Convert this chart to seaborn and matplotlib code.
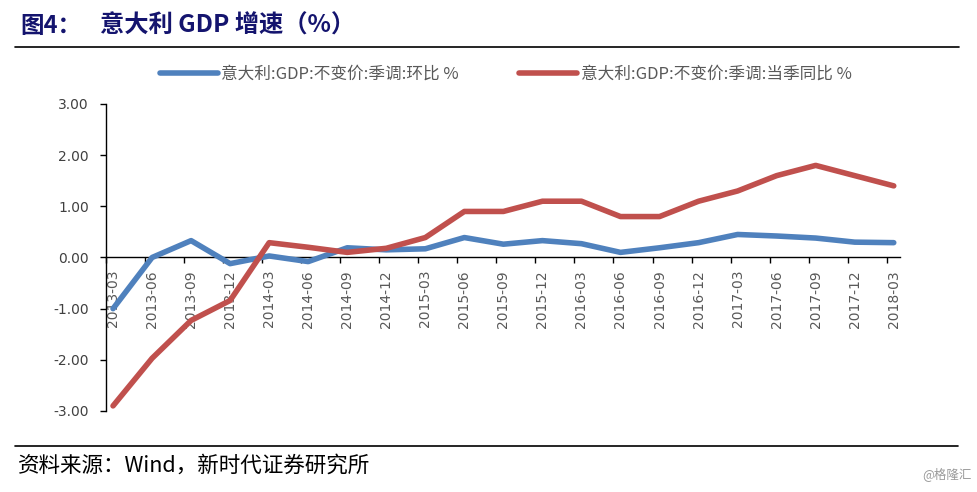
import seaborn as sns
import matplotlib
matplotlib.use("Agg")
import matplotlib.pyplot as plt
import numpy as np
import pandas as pd

# quarter labels and the two GDP growth series (%)
quarters = [
    "2013-03", "2013-06", "2013-09", "2013-12",
    "2014-03", "2014-06", "2014-09", "2014-12",
    "2015-03", "2015-06", "2015-09", "2015-12",
    "2016-03", "2016-06", "2016-09", "2016-12",
    "2017-03", "2017-06", "2017-09", "2017-12",
    "2018-03",
]
qoq = [
    -1.00, 0.00, 0.33, -0.12,
    0.03, -0.08, 0.19, 0.15,
    0.17, 0.39, 0.26, 0.33,
    0.27, 0.10, 0.19, 0.29,
    0.45, 0.42, 0.38, 0.30,
    0.29,
]
yoy = [
    -2.90, -1.97, -1.23, -0.84,
    0.29, 0.20, 0.10, 0.18,
    0.39, 0.90, 0.90, 1.10,
    1.10, 0.80, 0.80, 1.10,
    1.30, 1.60, 1.80, 1.60,
    1.40,
]
series_names = ["意大利:GDP:不变价:季调:环比 %", "意大利:GDP:不变价:季调:当季同比 %"]
yticks = [3.0, 2.0, 1.0, 0.0, -1.0, -2.0, -3.0]

BLUE = "#4F81BD"
RED = "#C0504D"
NAVY = "#14146E"
GREY = "#595959"

idx = np.arange(len(quarters))
df = pd.DataFrame({
    "idx": np.concatenate([idx, idx]),
    "value": qoq + yoy,
    "series": [series_names[0]] * len(idx) + [series_names[1]] * len(idx),
})

sns.set_style("white")
plt.rcParams["font.family"] = ["Noto Sans CJK SC", "DejaVu Sans"]

fig = plt.figure(figsize=(9.78, 4.92), dpi=100)
ax = fig.add_axes([106 / 978, 1 - 411 / 492, (900 - 106) / 978, (411 - 104) / 492])

sns.lineplot(
    data=df, x="idx", y="value", hue="series",
    palette={series_names[0]: BLUE, series_names[1]: RED},
    linewidth=4, ax=ax, legend=False,
)
for line in ax.lines:
    line.set_solid_capstyle("round")
    line.set_solid_joinstyle("round")
    line.set_zorder(4)

ax.set_xlim(-0.18, len(quarters) - 1 + 0.16)
ax.set_ylim(-3, 3)
ax.set_xlabel("")
ax.set_ylabel("")

# spines like the excel chart: left axis + category axis through zero
for side in ["top", "right"]:
    ax.spines[side].set_visible(False)
ax.spines["bottom"].set_position(("data", 0))
for side in ["left", "bottom"]:
    ax.spines[side].set_color("black")
    ax.spines[side].set_linewidth(1.0)
    ax.spines[side].set_zorder(2)

ax.set_yticks(yticks)
ax.set_yticklabels([f"{v:.2f}" for v in yticks], fontfamily="DejaVu Sans",
                   fontsize=10, color="#404040")
ax.tick_params(axis="y", direction="out", length=4.3, width=1, color="black", pad=8, left=True)

# tick marks between points, labels on the points
ax.set_xticks(idx - 0.18)
ax.set_xticklabels([])
ax.set_xticks(idx, minor=True)
ax.set_xticklabels(quarters, minor=True, rotation=90, fontfamily="DejaVu Sans",
                   fontsize=10, color=GREY)
ax.tick_params(axis="x", which="major", direction="out", length=4.3, width=1,
               color="black", bottom=True)
ax.tick_params(axis="x", which="minor", length=0, pad=9, bottom=True)
ax.grid(False)

handles = ax.lines[:2]
leg = fig.legend(
    handles, series_names,
    loc="center", bbox_to_anchor=(0.517, 1 - 74 / 492),
    ncol=2, frameon=False, fontsize=12,
    handlelength=3.5, handletextpad=0.2, columnspacing=3.6,
)
for text in leg.get_texts():
    text.set_color(GREY)

# title block
fig.text(20 / 978, 1 - 26 / 492, "图4：", fontsize=17, fontweight="bold",
         color=NAVY, va="center", ha="left")
fig.text(100 / 978, 1 - 26 / 492, "意大利 GDP 增速（%）", fontsize=17.5,
         fontweight="bold", color=NAVY, va="center", ha="left")
fig.add_artist(plt.Line2D([15 / 978, 959 / 978], [1 - 47 / 492, 1 - 47 / 492],
                          color="black", linewidth=1.2))

# source block
fig.add_artist(plt.Line2D([15 / 978, 958 / 978], [1 - 446 / 492, 1 - 446 / 492],
                          color="black", linewidth=1.2))
fig.text(18 / 978, 1 - 466 / 492, "资料来源：Wind，新时代证券研究所", fontsize=15.5,
         color="black", va="center", ha="left")
fig.text(972 / 978, 1 - 474 / 492, "@格隆汇", fontsize=9, color="#9a9a9a",
         va="center", ha="right")

plt.savefig("out.png", dpi=100)
plt.close()
